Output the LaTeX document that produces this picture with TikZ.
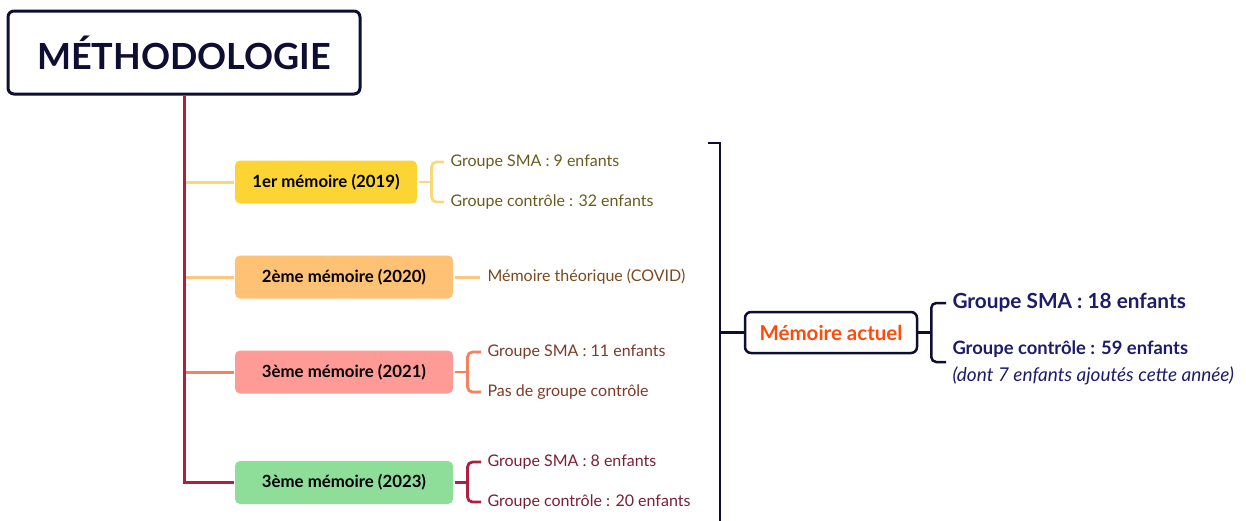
\documentclass[tikz,border=0pt]{standalone}
\usepackage{fontspec}
\setmainfont{Lato}
\usetikzlibrary{calc}
\definecolor{navy}{HTML}{0E0E33}
\definecolor{bleu}{HTML}{1C1C6B}
\definecolor{rouge}{HTML}{B01F3D}
\definecolor{jaune}{HTML}{FCD535}
\definecolor{jauneclair}{HTML}{F6D97A}
\definecolor{orange}{HTML}{FFC174}
\definecolor{orangeclair}{HTML}{FCC77C}
\definecolor{rose}{HTML}{FF9B97}
\definecolor{corail}{HTML}{F5825C}
\definecolor{vert}{HTML}{8EDE99}
\definecolor{actuel}{HTML}{FF4A0A}
\definecolor{texte1}{HTML}{6B5A1E}
\definecolor{texte2}{HTML}{7B4A1E}
\definecolor{texte3}{HTML}{7D3B26}
\definecolor{texte4}{HTML}{7A2036}
\begin{document}
\begin{tikzpicture}[x=1pt,y=-1pt,line width=3pt,
  memoire/.style={rounded corners=5pt,text=black,font=\fontsize{16.8}{19}\selectfont\bfseries,minimum height=43pt},
  sousbranche/.style={anchor=west,font=\fontsize{16}{18}\selectfont,inner sep=0pt},
  accolade/.style={rounded corners=5pt,line width=2.8pt}]
\useasboundingbox (0,0) rectangle (1246,520);
% titre
\node[draw=navy,rounded corners=6pt,minimum width=352pt,minimum height=83pt,
  font=\fontsize{36}{42}\selectfont\bfseries,text=navy] (titre) at (184,52.5) {MÉTHODOLOGIE};
% les memoires
\node[memoire,fill=jaune,minimum width=182pt] (m1) at (326,182) {1er mémoire (2019)};
\node[memoire,fill=orange,minimum width=218pt] (m2) at (344,277) {2ème mémoire (2020)};
\node[memoire,fill=rose,minimum width=218pt] (m3) at (344,372) {3ème mémoire (2021)};
\node[memoire,fill=vert,minimum width=218pt] (m4) at (344,482.5) {3ème mémoire (2023)};
% branches
\draw[jauneclair] (m1.west) -- (m1.west -| titre.south);
\draw[orangeclair] (m2.west) -- (m2.west -| titre.south);
\draw[corail] (m3.west) -- (m3.west -| titre.south);
\draw[rouge] (titre.south) |- (m4.west);
% details
\node[sousbranche,text=texte1] (s1a) at (449,162) {Groupe SMA : 9 enfants};
\node[sousbranche,text=texte1] (s1b) at (449,202) {Groupe contrôle : 32 enfants};
\node[sousbranche,text=texte2] (s2) at (486,277) {Mémoire théorique (COVID)};
\node[sousbranche,text=texte3] (s3a) at (486,352) {Groupe SMA : 11 enfants};
\node[sousbranche,text=texte3] (s3b) at (486,392) {Pas de groupe contrôle};
\node[sousbranche,text=texte4] (s4a) at (486,462) {Groupe SMA : 8 enfants};
\node[sousbranche,text=texte4] (s4b) at (486,502) {Groupe contrôle : 20 enfants};
\draw[accolade,jauneclair] (m1.east) -- ++(13,0) coordinate (a1);
\draw[accolade,jauneclair] (s1a.west) ++(-5,0) -| (a1) |- ($(s1b.west)+(-5,0)$);
\draw[orangeclair] (m2.east) -- ($(s2.west)+(-6,0)$);
\draw[accolade,corail] (m3.east) -- ++(13,0) coordinate (a3);
\draw[accolade,corail] (s3a.west) ++(-5,0) -| (a3) |- ($(s3b.west)+(-5,0)$);
\draw[accolade,rouge] (m4.east) -- ++(13,0) coordinate (a4);
\draw[accolade,rouge] (s4a.west) ++(-5,0) -| (a4) |- ($(s4b.west)+(-5,0)$);
% memoire actuel
\coordinate (haut) at (708,143);
\coordinate (bas) at (720,522);
\draw[navy,line width=2.5pt] (haut) -| (bas);
\node[draw=navy,rounded corners=6pt,line width=2.5pt,minimum width=172pt,minimum height=41pt,
  font=\fontsize{20.5}{24}\selectfont\bfseries,text=actuel] (act) at (831,332.5) {Mémoire actuel};
\draw[navy,line width=2.5pt] (act.west) -- (act.west -| bas);
\node[anchor=west,inner sep=0pt,text=bleu,font=\fontsize{20.8}{24}\selectfont\bfseries] (g1) at (951,303) {Groupe SMA : 18 enfants};
\node[anchor=west,inner sep=0pt,text=bleu,font=\fontsize{18.4}{21}\selectfont\bfseries] (g2) at (951,349) {Groupe contrôle : 59 enfants};
\node[anchor=north west,inner sep=0pt,text=bleu,font=\fontsize{19}{22}\selectfont\itshape] (g3) at (951,365) {(dont 7 enfants ajoutés cette année)};
\draw[accolade,navy,line width=2.5pt] (act.east) -- ++(13,0) coordinate (a5);
\draw[accolade,navy,line width=2.5pt] (g1.west) ++(-5,0) -| (a5) |- ($(g2.west)+(-5,13)$);
\end{tikzpicture}
\end{document}
